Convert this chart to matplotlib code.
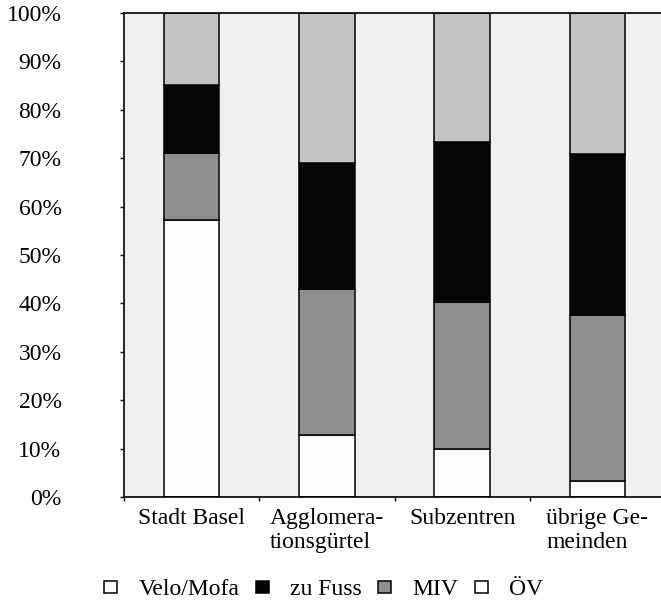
import numpy as np
import matplotlib.pyplot as plt

plt.rcParams['font.family'] = ['Liberation Serif', 'DejaVu Serif']

gebiete = ["Stadt Basel", "Agglomera-\ntionsgürtel", "Subzentren", "übrige Ge-\nmeinden"]
velo_mofa = np.array([57.2, 12.9, 9.9, 3.4])
miv = np.array([71.1, 43.0, 40.3, 37.7]) - velo_mofa
zu_fuss = np.array([85.1, 69.1, 73.4, 70.8]) - velo_mofa - miv
oev = 100 - velo_mofa - miv - zu_fuss

fig = plt.figure(figsize=(6.61, 6.05), dpi=100)
ax = fig.add_axes([124/661, 108/605, 537/661, 484/605])
ax.set_facecolor('#f0f0f0')

x = np.arange(len(gebiete))
w = 0.41
kw = dict(width=w, edgecolor='black', linewidth=1.1)
b1 = ax.bar(x, velo_mofa, color='#fdfdfd', label='Velo/Mofa', **kw)
b3 = ax.bar(x, miv, bottom=velo_mofa, color='#8e8e8e', label='MIV', **kw)
b2 = ax.bar(x, zu_fuss, bottom=velo_mofa + miv, color='#050505', label='zu Fuss', **kw)
b4 = ax.bar(x, oev, bottom=velo_mofa + miv + zu_fuss, color='#c4c4c4', label='ÖV', **kw)

ax.set_ylim(0, 100)
ax.set_xlim(-0.5, 3.47)
ax.set_yticks(np.arange(0, 101, 10))
ax.set_yticklabels([f"{v}%" for v in range(0, 101, 10)], fontsize=17)
ax.tick_params(axis='y', direction='out', length=3, width=1, pad=42)

ax.set_xticks(x)
ax.set_xticklabels(gebiete, fontsize=17, linespacing=1.15, multialignment='left')
ax.set_xticks(np.arange(-0.5, 3, 1), minor=True)
ax.tick_params(axis='x', which='major', length=0, pad=8)
ax.tick_params(axis='x', which='minor', direction='out', length=3, width=1)

for s in ['left', 'top', 'bottom']:
    ax.spines[s].set_linewidth(1.2)
ax.spines['right'].set_visible(False)

leg = fig.legend([b1, b2, b3, b4], ['Velo/Mofa', 'zu Fuss', 'MIV', 'ÖV'],
                 loc='center', bbox_to_anchor=(0.49, 0.025), ncol=4, frameon=False,
                 fontsize=17, handlelength=0.55, handleheight=0.4,
                 handletextpad=0.9, columnspacing=0.7)
leg.get_patches()[3].set_facecolor('white')

fig.savefig('out.png', dpi=100)
